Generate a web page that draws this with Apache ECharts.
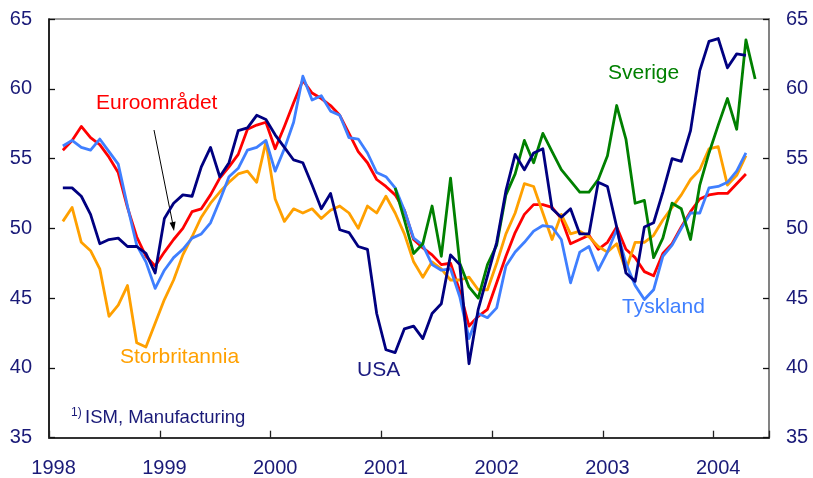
<!DOCTYPE html>
<html><head><meta charset="utf-8">
<script src="https://cdn.jsdelivr.net/npm/echarts@6.0.0/dist/echarts.min.js"></script>
<style>html,body{margin:0;padding:0;background:#fff}#c{width:813px;height:478px}</style>
</head><body><div id="c"></div>
<script>
// Monthly categories Jan 1998 .. Jun 2004
const firstYear = 1998, lastYear = 2004, lastMonth = 6;
const months = [];
for (let y = firstYear; y <= lastYear; y++) {
  for (let m = 1; m <= 12; m++) {
    if (y === lastYear && m > lastMonth) break;
    months.push(y + '-' + String(m).padStart(2, '0'));
  }
}
const yTicks = [35, 40, 45, 50, 55, 60, 65];

// Series values (first value = Jan 1998, null = no data)
const usa = [null, 52.9, 52.9, 52.3, 51.0, 48.9, 49.2, 49.3, 48.7, 48.7, 48.2, 46.8,
  50.7, 51.8, 52.4, 52.3, 54.4, 55.8, 53.7, 54.7, 57.0, 57.2, 58.1, 57.8,
  56.7, 55.8, 54.9, 54.7, 53.1, 51.4, 52.5, 49.9, 49.7, 48.7, 48.5, 43.9,
  41.3, 41.1, 42.8, 43.0, 42.1, 43.9, 44.6, 48.1, 47.4, 40.3, 44.2, 46.6,
  49.0, 52.7, 55.3, 54.2, 55.4, 55.7, 51.4, 50.8, 51.4, 49.6, 49.6, 53.3,
  53.0, 50.1, 46.8, 46.2, 50.1, 50.4, 52.6, 55.0, 54.8, 57.0, 61.3, 63.4,
  63.6, 61.5, 62.5, 62.4];
const euro = [null, 55.6, 56.3, 57.3, 56.5, 56.0, 55.1, 54.0, 51.5, 49.4, 48.0, 47.3,
  48.3, 49.2, 50.0, 51.2, 51.4, 52.4, 53.6, 54.4, 55.3, 57.1, 57.4, 57.6,
  55.7, 57.3, 59.0, 60.6, 59.7, 59.3, 58.8, 58.1, 56.8, 55.5, 54.7, 53.5,
  53.0, 52.4, 51.3, 49.2, 48.6, 48.1, 47.4, 47.5, 45.5, 43.0, 43.7, 44.2,
  46.1, 48.0, 49.7, 51.0, 51.7, 51.7, 51.5, 50.7, 48.9, 49.2, 49.5, 48.5,
  49.0, 50.1, 48.5, 47.9, 46.9, 46.6, 48.2, 48.9, 50.1, 51.2, 52.1, 52.4,
  52.5, 52.5, 53.2, 53.9];
const tyskland = [null, 55.9, 56.3, 55.8, 55.6, 56.4, 55.5, 54.6, 51.6, 48.8, 47.6, 45.7,
  47.0, 47.9, 48.5, 49.3, 49.6, 50.4, 52.0, 53.7, 54.3, 55.6, 55.8, 56.3,
  54.1, 55.7, 57.6, 60.9, 59.2, 59.5, 58.4, 58.1, 56.5, 56.4, 55.4, 54.0,
  53.7, 52.9, 51.3, 49.3, 48.8, 47.4, 47.0, 47.1, 45.1, 42.1, 43.9, 43.6,
  44.3, 47.3, 48.3, 49.0, 49.8, 50.2, 50.1, 49.2, 46.1, 48.3, 48.7, 47.0,
  48.3, 49.9, 47.5, 45.9, 44.9, 45.6, 48.0, 48.8, 50.0, 51.1, 51.1, 52.9,
  53.0, 53.3, 54.1, 55.4];
const storbritannia = [null, 50.5, 51.5, 49.0, 48.4, 47.1, 43.7, 44.5, 45.9, 41.8, 41.5, 43.2,
  44.9, 46.3, 48.1, 49.4, 50.8, 51.8, 52.6, 53.3, 53.9, 54.1, 53.3, 56.2,
  52.1, 50.5, 51.4, 51.1, 51.4, 50.7, 51.3, 51.6, 51.1, 50.0, 51.6, 51.1,
  52.3, 51.1, 49.6, 47.6, 46.5, 47.6, 47.1, 46.3, 46.3, 46.5, 45.6, 45.6,
  47.5, 49.6, 51.1, 53.2, 53.0, 51.1, 49.2, 51.0, 49.6, 49.8, 49.4, 48.7,
  48.3, 48.9, 47.0, 49.0, 49.0, 49.5, 50.6, 51.5, 52.4, 53.5, 54.2, 55.7,
  55.85, 53.1, 53.8, 55.2];
// Sverige starts Feb 2001
const sverigeStart = '2001-02';
const sverigeValues = [52.9, 50.6, 48.2, 48.9, 51.6, 48.0, 53.6, 47.5, 45.8, 45.0, 47.4,
  48.8, 52.4, 53.9, 56.3, 54.7, 56.8, 55.5, 54.2, 53.4, 52.6, 52.6, 53.5,
  55.2, 58.8, 56.4, 51.8, 52.0, 47.9, 49.3, 51.8, 51.4, 49.2, 53.1, 55.4,
  57.4, 59.3, 57.1, 63.5, 60.7];
const sverige = months.map(() => null);
const sOff = months.indexOf(sverigeStart);
sverigeValues.forEach((v, i) => { sverige[sOff + i] = v; });

const navy = '#000080', red = '#ff0000', blue = '#3f7fff', orange = '#ffa000', green = '#008000';
const textNavy = '#1a1a78';
const FONT = '"Liberation Sans", Arial, sans-serif';

const chart = echarts.init(document.getElementById('c'), null, {renderer: 'canvas'});

function mkSeries(name, data, color) {
  return {
    name, type: 'line', data, symbol: 'none', connectNulls: false,
    lineStyle: {color, width: 2.8, join: 'round'}, itemStyle: {color},
    emphasis: {disabled: true}, animation: false
  };
}

const yAxisCommon = {
  type: 'value', min: 35, max: 65, interval: 5,
  splitLine: {show: false},
  axisTick: {show: true, inside: true, length: 6, lineStyle: {color: '#111', width: 1.3}},
  axisLabel: {color: textNavy, fontSize: 20, fontFamily: FONT, margin: 17}
};

chart.setOption({
  animation: false,
  backgroundColor: '#fff',
  grid: {left: 49, right: 44, top: 19, bottom: 40.3, show: true, borderColor: '#808080', borderWidth: 1.6, outerBoundsMode: 'none'},
  xAxis: {
    type: 'category', data: months, boundaryGap: true,
    axisLine: {show: true, lineStyle: {color: '#333', width: 2}},
    axisTick: {show: true, inside: true, interval: 11, length: 7, lineStyle: {color: '#222', width: 1.3}},
    axisLabel: {interval: 11, color: textNavy, fontSize: 20, fontFamily: FONT, margin: 21,
      formatter: v => v.slice(0, 4)},
    splitLine: {show: false}
  },
  yAxis: [
    Object.assign({}, yAxisCommon, {position: 'left',
      axisLine: {show: true, lineStyle: {color: '#000', width: 1.5}}}),
    Object.assign({}, yAxisCommon, {position: 'right',
      axisLine: {show: true, lineStyle: {color: '#808080', width: 1.8}}})
  ],
  series: [
    mkSeries('Euroområdet', euro, red),
    mkSeries('Storbritannia', storbritannia, orange),
    mkSeries('Tyskland', tyskland, blue),
    mkSeries('Sverige', sverige, green),
    mkSeries('USA', usa, navy)
  ],
  graphic: [
    {type: 'text', style: {text: 'Euroområdet', x: 96, y: 103, fill: red, font: '21px ' + FONT, align: 'left', verticalAlign: 'middle'}},
    {type: 'text', style: {text: 'Sverige', x: 608, y: 73, fill: green, font: '21px ' + FONT, align: 'left', verticalAlign: 'middle'}},
    {type: 'text', style: {text: 'Storbritannia', x: 120, y: 357, fill: orange, font: '21px ' + FONT, align: 'left', verticalAlign: 'middle'}},
    {type: 'text', style: {text: 'USA', x: 357, y: 370, fill: '#1a1a80', font: '21px ' + FONT, align: 'left', verticalAlign: 'middle'}},
    {type: 'text', style: {text: 'Tyskland', x: 622, y: 307, fill: blue, font: '21px ' + FONT, align: 'left', verticalAlign: 'middle'}},
    {type: 'text', style: {text: '1)', x: 71, y: 413, fill: textNavy, font: '12px ' + FONT, align: 'left', verticalAlign: 'middle'}},
    {type: 'text', style: {text: 'ISM, Manufacturing', x: 85, y: 418, fill: textNavy, font: '18.5px ' + FONT, align: 'left', verticalAlign: 'middle'}},
    {type: 'line', shape: {x1: 154, y1: 130, x2: 172.6, y2: 223}, style: {stroke: '#000', lineWidth: 1}},
    {type: 'polygon', shape: {points: [[174, 231], [169.6, 222.8], [175.6, 221.6]]}, style: {fill: '#000'}}
  ]
});
</script></body></html>
